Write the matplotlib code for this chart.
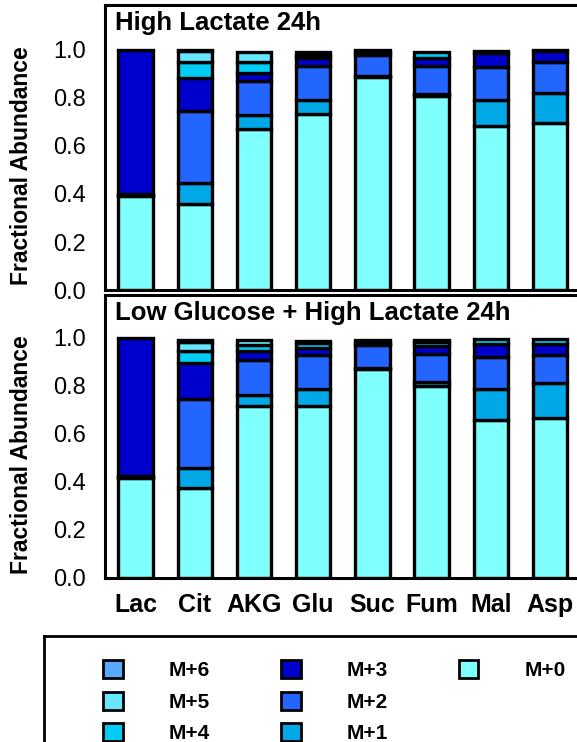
import matplotlib
matplotlib.use("Agg")
import matplotlib.pyplot as plt
from matplotlib.patches import Patch
import numpy as np

plt.rcParams['font.family'] = ['Liberation Sans', 'DejaVu Sans']

categories = ['Lac', 'Cit', 'AKG', 'Glu', 'Suc', 'Fum', 'Mal', 'Asp']
isotopologues = ['M+0', 'M+1', 'M+2', 'M+3', 'M+4', 'M+5', 'M+6']
colors = ['#80FFFF', '#00A8E8', '#2266FF', '#0000CC', '#00CCF5', '#66E6FF', '#55AAFF']

# High Lactate 24h
hl_m0 = [0.390, 0.360, 0.670, 0.735, 0.888, 0.808, 0.683, 0.695]
hl_m1 = [0.005, 0.085, 0.060, 0.055, 0.004, 0.007, 0.110, 0.125]
hl_m2 = [0.005, 0.300, 0.140, 0.145, 0.088, 0.120, 0.137, 0.130]
hl_m3 = [0.600, 0.140, 0.035, 0.030, 0.010, 0.030, 0.057, 0.045]
hl_m4 = [0.000, 0.065, 0.045, 0.015, 0.010, 0.025, 0.010, 0.005]
hl_m5 = [0.000, 0.045, 0.040, 0.010, 0.000, 0.000, 0.000, 0.000]
hl_m6 = [0.000, 0.005, 0.000, 0.000, 0.000, 0.000, 0.000, 0.000]

# Low Glucose + High Lactate 24h
lg_m0 = [0.415, 0.377, 0.717, 0.717, 0.869, 0.799, 0.657, 0.667]
lg_m1 = [0.005, 0.080, 0.045, 0.070, 0.005, 0.018, 0.132, 0.147]
lg_m2 = [0.005, 0.290, 0.145, 0.142, 0.095, 0.115, 0.132, 0.117]
lg_m3 = [0.575, 0.148, 0.038, 0.030, 0.012, 0.035, 0.055, 0.045]
lg_m4 = [0.000, 0.052, 0.025, 0.020, 0.012, 0.015, 0.018, 0.018]
lg_m5 = [0.000, 0.035, 0.020, 0.010, 0.000, 0.010, 0.000, 0.000]
lg_m6 = [0.000, 0.010, 0.000, 0.000, 0.000, 0.000, 0.000, 0.000]

yticks = [0.0, 0.2, 0.4, 0.6, 0.8, 1.0]
titles = ['High Lactate 24h', 'Low Glucose + High Lactate 24h']

W, H = 577, 742
fig = plt.figure(figsize=(W / 100, H / 100), dpi=100)

def fx(px):
    return px / W

def fy(py):
    return (H - py) / H

ax_left, ax_right = 105, 580.5
panels = [
    (5, 290, 50, 23, [hl_m0, hl_m1, hl_m2, hl_m3, hl_m4, hl_m5, hl_m6]),
    (295, 578, 338, 313, [lg_m0, lg_m1, lg_m2, lg_m3, lg_m4, lg_m5, lg_m6]),
]

x = np.arange(len(categories))
bar_w = 0.58
edge_lw = 2.4

for i, (top, bot, one, title_y, series) in enumerate(panels):
    ax = fig.add_axes([fx(ax_left), fy(bot), fx(ax_right - ax_left), (bot - top) / H])
    ymax = (bot - top) / (bot - one)
    ax.set_ylim(0, ymax)
    ax.set_xlim(-0.515, len(categories) - 0.485)
    bottom = np.zeros(len(categories))
    for vals, col in zip(series, colors):
        vals = np.array(vals)
        mask = vals > 0
        ax.bar(x[mask], vals[mask], bar_w, bottom=bottom[mask], color=col,
               edgecolor='black', linewidth=edge_lw, zorder=2)
        bottom += vals
    for s in ax.spines.values():
        s.set_linewidth(2.2)
        s.set_color('black')
    ax.set_yticks(yticks)
    ax.set_yticklabels([f'{t:.1f}' for t in yticks], fontsize=17)
    ax.tick_params(axis='y', length=0, pad=14)
    ax.set_xticks(x)
    if i == 1:
        ax.set_xticklabels(categories, fontsize=18, fontweight='bold')
        ax.tick_params(axis='x', length=0, pad=11)
    else:
        ax.set_xticklabels([])
        ax.tick_params(axis='x', length=0)
    ax.text((115 - ax_left) / (ax_right - ax_left), (bot - title_y) / (bot - top),
            titles[i], transform=ax.transAxes, fontsize=18.5, fontweight='bold',
            ha='left', va='center')
    ax.set_ylabel('Fractional Abundance', fontsize=16.5, fontweight='bold')
    ax.yaxis.set_label_coords(-(ax_left - 33) / (ax_right - ax_left), 0.437)

# Legend box
ax_leg = fig.add_axes([fx(44), fy(790), fx(640 - 44), (790 - 636) / H])
ax_leg.set_xticks([])
ax_leg.set_yticks([])
for s in ax_leg.spines.values():
    s.set_linewidth(2.0)
    s.set_color('black')

order = ['M+6', 'M+5', 'M+4', 'M+3', 'M+2', 'M+1', 'M+0']
handles = [Patch(facecolor=colors[isotopologues.index(k)], edgecolor='black', linewidth=2.0)
           for k in order]
labels = list(order)
# two invisible placeholders so the third column holds only M+0
handles += [Patch(visible=False), Patch(visible=False)]
labels += ['', '']
ax_leg.legend(handles, labels, loc='upper left', bbox_to_anchor=(fx(103), fy(660)),
              bbox_transform=fig.transFigure, ncol=3, frameon=False,
              prop={'size': 15, 'weight': 'bold'}, borderpad=0, borderaxespad=0,
              handlelength=0.95, handleheight=0.95, handletextpad=2.2,
              columnspacing=3.4, labelspacing=0.55)

fig.savefig('out.png', dpi=100)
